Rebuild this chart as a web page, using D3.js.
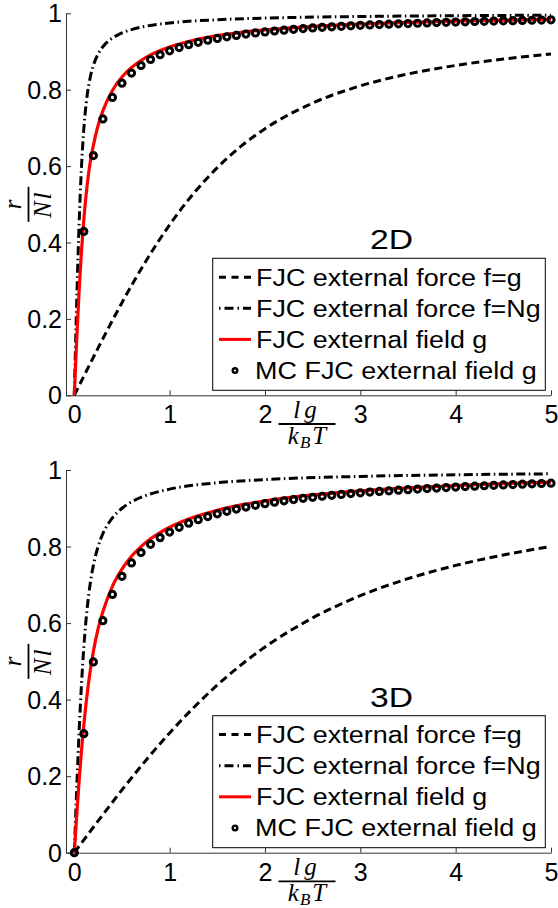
<!DOCTYPE html>
<html><head><meta charset="utf-8">
<script src="https://cdn.jsdelivr.net/npm/d3@7"></script>
<style>html,body{margin:0;padding:0;background:#fff;} svg{display:block;}</style>
</head><body>
<svg id="chart" width="558" height="908"></svg>
<script>
// ---------- data ----------
const xTicks = [0, 1, 2, 3, 4, 5];
const yTicks = [0, 0.2, 0.4, 0.6, 0.8, 1];
const yTickLabels = ["0", "0.2", "0.4", "0.6", "0.8", "1"];
const legendLabels = ["FJC external force f=g", "FJC external force f=Ng", "FJC external field g", "MC FJC external field g"];
const panelLabels = ["2D", "3D"];

// FJC external force f=g (dashed)
const xForce = [0, 0.25, 0.5, 0.75, 1, 1.25, 1.5, 1.75, 2, 2.5, 3, 3.5, 4, 4.5, 5];
const force2D = [0, 0.124, 0.2425, 0.3509, 0.4464, 0.528, 0.5961, 0.6521, 0.6978, 0.765, 0.81, 0.8411, 0.8635, 0.8803, 0.8935];
const force3D = [0, 0.083, 0.164, 0.2411, 0.313, 0.3788, 0.4381, 0.4909, 0.5373, 0.6135, 0.6716, 0.7161, 0.7507, 0.778, 0.8001];

// FJC external force f=Ng (dash-dot)
const xForceN = [0, 0.01, 0.02, 0.03, 0.04, 0.05, 0.075, 0.1, 0.125, 0.15, 0.175, 0.2, 0.25, 0.3, 0.35, 0.4, 0.5, 0.6, 0.75, 1, 1.5, 2, 3, 4, 5];
const forceN2D = [0, 0.0995, 0.196, 0.287, 0.37, 0.4464, 0.5961, 0.6978, 0.765, 0.81, 0.8411, 0.8635, 0.8935, 0.9124, 0.9256, 0.9352, 0.9486, 0.9574, 0.9661, 0.9747, 0.9832, 0.9874, 0.9916, 0.9937, 0.995];
const forceN3D = [0, 0.0664, 0.1319, 0.1953, 0.2559, 0.313, 0.4381, 0.5373, 0.6135, 0.6716, 0.7161, 0.7507, 0.8001, 0.8338, 0.8571, 0.875, 0.9, 0.9167, 0.9333, 0.95, 0.9667, 0.975, 0.9833, 0.9875, 0.99];

// FJC external field g (red)
const xField = [0, 0.025, 0.05, 0.075, 0.1, 0.15, 0.2, 0.25, 0.3, 0.4, 0.5, 0.6, 0.7, 0.8, 0.9, 1, 1.25, 1.5, 1.75, 2, 2.5, 3, 3.5, 4, 4.5, 5];
const field2D = [0, 0.144, 0.271, 0.376, 0.46, 0.581, 0.654, 0.707, 0.745, 0.798, 0.833, 0.858, 0.8765, 0.891, 0.9026, 0.9119, 0.9294, 0.9415, 0.9502, 0.9568, 0.966, 0.972, 0.9762, 0.9795, 0.982, 0.9845];
const field3D = [0, 0.0952, 0.1857, 0.2655, 0.334, 0.445, 0.5256, 0.5855, 0.6297, 0.6958, 0.7408, 0.7747, 0.7999, 0.8203, 0.8366, 0.8503, 0.8764, 0.8949, 0.9088, 0.9195, 0.935, 0.9456, 0.9535, 0.9595, 0.9645, 0.9685];

// MC FJC external field g (circles)
const xMC = [0, 0.1, 0.2, 0.3, 0.4, 0.5, 0.6, 0.7, 0.8, 0.9, 1, 1.1, 1.2, 1.3, 1.4, 1.5, 1.6, 1.7, 1.8, 1.9, 2,
  2.1, 2.2, 2.3, 2.4, 2.5, 2.6, 2.7, 2.8, 2.9, 3, 3.1, 3.2, 3.3, 3.4, 3.5, 3.6, 3.7, 3.8, 3.9, 4,
  4.1, 4.2, 4.3, 4.4, 4.5, 4.6, 4.7, 4.8, 4.9, 5];
const mc2D = [null, 0.429, 0.6275, 0.7236, 0.7798, 0.817, 0.8435, 0.8634, 0.879, 0.8915, 0.9018,
  0.9104, 0.9177, 0.924, 0.9294, 0.9342, 0.9384, 0.9422, 0.9455, 0.9485, 0.9512,
  0.9537, 0.9559, 0.958, 0.9599, 0.9616, 0.9632, 0.9646, 0.966, 0.9672, 0.9684,
  0.9695, 0.9705, 0.9715, 0.9724, 0.9732, 0.974, 0.9748, 0.9756, 0.9764, 0.9771,
  0.9778, 0.9785, 0.9791, 0.9797, 0.9803, 0.9808, 0.9813, 0.9818, 0.9823, 0.9828];
const mc3D = [0, 0.311, 0.4986, 0.6063, 0.6748, 0.7223, 0.7573, 0.7842, 0.8057, 0.8233, 0.8379,
  0.8503, 0.861, 0.8703, 0.8784, 0.8856, 0.892, 0.8978, 0.903, 0.9077, 0.912,
  0.9159, 0.9195, 0.9228, 0.9259, 0.9287, 0.9314, 0.9338, 0.9361, 0.9383, 0.9403,
  0.9422, 0.944, 0.9456, 0.9472, 0.9487, 0.9501, 0.9515, 0.9529, 0.9542, 0.9555,
  0.9567, 0.9578, 0.9589, 0.96, 0.961, 0.962, 0.9629, 0.9638, 0.9647, 0.9655];

// ---------- layout ----------
const SANS = "'Liberation Sans', Arial, Helvetica, sans-serif";
const SERIF = "'Liberation Serif', 'Times New Roman', serif";
const legendWidths = [265.7, 284.7, 231.3, 281.7];

const panels = [
  { label: panelLabels[0], y0: 395.3, y1: 13.3, labelBase: 249, legTop: 258.3,
    force: force2D, forceN: forceN2D, field: field2D, mc: mc2D },
  { label: panelLabels[1], y0: 852.7, y1: 470, labelBase: 706.7, legTop: 715.7,
    force: force3D, forceN: forceN3D, field: field3D, mc: mc3D }
];

const svg = d3.select("#chart");
const x = d3.scaleLinear().domain([-0.087, 5]).range([66, 551]);

panels.forEach(p => {
  const y = d3.scaleLinear().domain([0, 1]).range([p.y0, p.y1]);
  const g = svg.append("g");

  // axes
  const xa = g.append("g").attr("transform", `translate(0,${p.y0})`)
    .call(d3.axisBottom(x).tickValues(xTicks).tickSize(-5).tickSizeOuter(0).tickFormat(d3.format("d")));
  xa.attr("font-size", 25).attr("font-family", SANS);
  xa.select(".domain").attr("stroke", "#333");
  xa.selectAll(".tick line").attr("stroke", "#333");
  xa.selectAll(".tick text").attr("fill", "#000").attr("y", 28).attr("dy", 0);

  const ya = g.append("g").attr("transform", "translate(66,0)")
    .call(d3.axisLeft(y).tickValues(yTicks).tickSize(-5).tickSizeOuter(0).tickPadding(4)
      .tickFormat((d, i) => yTickLabels[i]));
  ya.attr("font-size", 25).attr("font-family", SANS);
  ya.select(".domain").attr("stroke", "#333");
  ya.selectAll(".tick line").attr("stroke", "#333");
  ya.selectAll(".tick text").attr("fill", "#000").attr("dy", "0.34em");

  const line = d3.line().x(d => x(d[0])).y(d => y(d[1])).curve(d3.curveMonotoneX);

  // dashed: force f=g
  g.append("path").datum(xForce.map((v, i) => [v, p.force[i]]))
    .attr("d", line).attr("fill", "none").attr("stroke", "#000")
    .attr("stroke-width", 3).attr("stroke-dasharray", "8,4.5");
  // dash-dot: force f=Ng
  g.append("path").datum(xForceN.map((v, i) => [v, p.forceN[i]]))
    .attr("d", line).attr("fill", "none").attr("stroke", "#000")
    .attr("stroke-width", 3).attr("stroke-dasharray", "9,3.5,1.5,3.5");
  // red: field g
  g.append("path").datum(xField.map((v, i) => [v, p.field[i]]))
    .attr("d", line).attr("fill", "none").attr("stroke", "#ff0000")
    .attr("stroke-width", 3.2);
  // circles: MC
  g.append("g").selectAll("circle")
    .data(xMC.map((v, i) => [v, p.mc[i]]).filter(d => d[1] !== null))
    .join("circle")
    .attr("cx", d => x(d[0])).attr("cy", d => y(d[1])).attr("r", 3.1)
    .attr("fill", "none").attr("stroke", "#000").attr("stroke-width", 3);

  // panel label
  g.append("text").attr("x", 391.5).attr("y", p.labelBase).attr("text-anchor", "middle")
    .attr("font-family", SANS).attr("font-size", 28).attr("textLength", 43)
    .attr("lengthAdjust", "spacingAndGlyphs").text(p.label);

  // legend
  const lg = g.append("g");
  lg.append("rect").attr("x", 212.7).attr("y", p.legTop).attr("width", 332.6).attr("height", 132)
    .attr("fill", "#fff").attr("stroke", "#000").attr("stroke-width", 1);
  legendLabels.forEach((t, i) => {
    const base = p.legTop + 27.4 + i * 31.1;
    const cy = base - 8.5;
    if (i === 0) lg.append("line").attr("x1", 219).attr("x2", 251).attr("y1", cy).attr("y2", cy)
      .attr("stroke", "#000").attr("stroke-width", 3).attr("stroke-dasharray", "7,5.5");
    if (i === 1) lg.append("line").attr("x1", 219).attr("x2", 251).attr("y1", cy).attr("y2", cy)
      .attr("stroke", "#000").attr("stroke-width", 3).attr("stroke-dasharray", "1.5,4,9,4,1.5,4,8");
    if (i === 2) lg.append("line").attr("x1", 219).attr("x2", 251).attr("y1", cy).attr("y2", cy)
      .attr("stroke", "#ff0000").attr("stroke-width", 3);
    if (i === 3) lg.append("circle").attr("cx", 235).attr("cy", cy).attr("r", 2.3)
      .attr("fill", "none").attr("stroke", "#000").attr("stroke-width", 2.4);
    lg.append("text").attr("x", i === 3 ? 255 : 256).attr("y", base)
      .attr("font-family", SANS).attr("font-size", 23)
      .attr("textLength", legendWidths[i]).attr("lengthAdjust", "spacingAndGlyphs").text(t);
  });

  // y label: r / (N l)
  const yl = g.append("g").attr("transform", `translate(28.5,${y(0.5)}) rotate(-90)`)
    .attr("font-family", SERIF).attr("font-style", "italic").attr("text-anchor", "middle");
  yl.append("text").attr("x", 0).attr("y", -8).attr("font-size", 25).text("r");
  yl.append("line").attr("x1", -17.5).attr("x2", 17.5).attr("y1", 0).attr("y2", 0)
    .attr("stroke", "#000").attr("stroke-width", 1.8);
  yl.append("text").attr("x", 0).attr("y", 22).attr("font-size", 25)
    .attr("letter-spacing", 2).text("Nl");

  // x label: lg / (k_B T)
  const xl = g.append("g").attr("transform", `translate(307,${p.y0 + 28.7})`)
    .attr("font-family", SERIF).attr("font-style", "italic").attr("text-anchor", "middle");
  xl.append("text").attr("x", 0).attr("y", -6).attr("font-size", 25)
    .attr("letter-spacing", 4).text("lg");
  xl.append("line").attr("x1", -28.5).attr("x2", 28.5).attr("y1", 0).attr("y2", 0)
    .attr("stroke", "#000").attr("stroke-width", 1.8);
  const den = xl.append("text").attr("x", 0).attr("y", 20).attr("font-size", 25);
  den.append("tspan").text("k");
  den.append("tspan").attr("font-size", 17).attr("dy", 4).attr("dx", 1).text("B");
  den.append("tspan").attr("dy", -4).attr("dx", 2).text("T");
});
</script>
</body></html>
